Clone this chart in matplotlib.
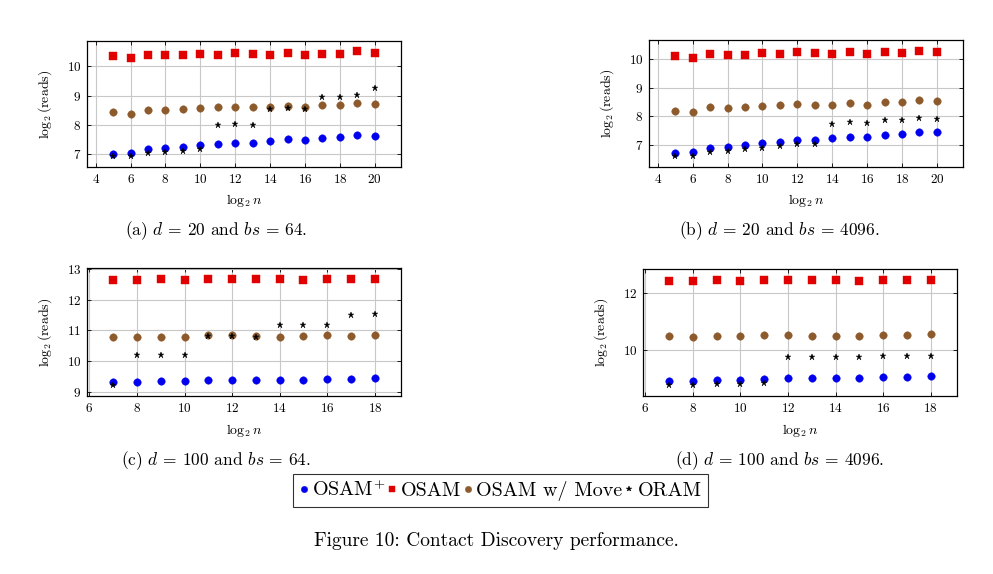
import numpy as np
import matplotlib
matplotlib.use("Agg")
import matplotlib.pyplot as plt

plt.rcParams['font.family'] = 'cmr10'
plt.rcParams['mathtext.fontset'] = 'cm'
plt.rcParams['axes.formatter.use_mathtext'] = True

# ====== DATA ======
n_a = [5, 6, 7, 8, 9, 10, 11, 12, 13, 14, 15, 16, 17, 18, 19, 20]
n_c = [7, 8, 9, 10, 11, 12, 13, 14, 15, 16, 17, 18]

# (a) d=20, bs=64
osam_plus_a = [7.01, 7.04, 7.19, 7.21, 7.27, 7.31, 7.36, 7.40, 7.40, 7.45, 7.51, 7.49, 7.56, 7.60, 7.65, 7.64]
osam_a = [10.35, 10.30, 10.40, 10.38, 10.38, 10.43, 10.40, 10.46, 10.43, 10.39, 10.45, 10.39, 10.44, 10.43, 10.51, 10.46]
move_a = [8.43, 8.39, 8.52, 8.51, 8.55, 8.57, 8.60, 8.62, 8.61, 8.61, 8.66, 8.62, 8.67, 8.69, 8.74, 8.72]
oram_a = [6.93, 6.93, 7.04, 7.09, 7.13, 7.18, 8.02, 8.04, 8.02, 8.55, 8.58, 8.55, 8.97, 8.97, 9.03, 9.27]

# (b) d=20, bs=4096
osam_plus_b = [6.71, 6.74, 6.91, 6.94, 7.00, 7.07, 7.12, 7.19, 7.19, 7.23, 7.28, 7.28, 7.35, 7.40, 7.45, 7.44]
osam_b = [10.12, 10.05, 10.19, 10.15, 10.15, 10.21, 10.19, 10.24, 10.20, 10.17, 10.26, 10.17, 10.24, 10.21, 10.30, 10.26]
move_b = [8.20, 8.16, 8.31, 8.30, 8.33, 8.36, 8.38, 8.44, 8.40, 8.41, 8.47, 8.41, 8.49, 8.51, 8.56, 8.52]
oram_b = [6.60, 6.60, 6.74, 6.79, 6.86, 6.91, 6.98, 7.02, 7.02, 7.74, 7.81, 7.77, 7.87, 7.88, 7.94, 7.91]

# (c) d=100, bs=64
osam_plus_c = [9.33, 9.32, 9.35, 9.36, 9.38, 9.40, 9.40, 9.39, 9.39, 9.41, 9.41, 9.45]
osam_c = [12.65, 12.64, 12.68, 12.65, 12.67, 12.66, 12.66, 12.66, 12.64, 12.68, 12.67, 12.67]
move_c = [10.78, 10.78, 10.80, 10.80, 10.84, 10.84, 10.81, 10.80, 10.81, 10.84, 10.81, 10.84]
oram_c = [9.22, 10.19, 10.22, 10.21, 10.81, 10.81, 10.79, 11.17, 11.17, 11.19, 11.51, 11.52]

# (d) d=100, bs=4096
osam_plus_d = [8.91, 8.91, 8.95, 8.95, 8.97, 9.01, 9.01, 9.01, 9.01, 9.04, 9.04, 9.09]
osam_d = [12.42, 12.41, 12.47, 12.42, 12.46, 12.44, 12.44, 12.44, 12.42, 12.46, 12.44, 12.46]
move_d = [10.48, 10.47, 10.50, 10.50, 10.53, 10.54, 10.50, 10.49, 10.49, 10.53, 10.51, 10.55]
oram_d = [8.76, 8.78, 8.81, 8.81, 8.84, 9.77, 9.77, 9.74, 9.77, 9.79, 9.78, 9.80]

captions = [r'(a) $d$ = 20 and $bs$ = 64.', r'(b) $d$ = 20 and $bs$ = 4096.',
            r'(c) $d$ = 100 and $bs$ = 64.', r'(d) $d$ = 100 and $bs$ = 4096.']
labels = [r'OSAM$^{+}$', 'OSAM', 'OSAM w/ Move', 'ORAM']
# ==================

panels = [
    (n_a, [osam_plus_a, osam_a, move_a, oram_a], [7, 8, 9, 10], range(4, 21, 2)),
    (n_a, [osam_plus_b, osam_b, move_b, oram_b], [7, 8, 9, 10], range(4, 21, 2)),
    (n_c, [osam_plus_c, osam_c, move_c, oram_c], [9, 10, 11, 12, 13], range(6, 19, 2)),
    (n_c, [osam_plus_d, osam_d, move_d, oram_d], [10, 12], range(6, 19, 2)),
]
# axes rects (left, bottom, width, height)
rects = [
    [0.0876, 0.7091, 0.3162, 0.2195],
    [0.6536, 0.7091, 0.3162, 0.2213],
    [0.0876, 0.3101, 0.3162, 0.2230],
    [0.6475, 0.3101, 0.3162, 0.2213],
]
cap_pos = [(0.218, 0.598), (0.785, 0.598), (0.218, 0.197), (0.785, 0.197)]

styles = [
    dict(marker='o', color='#0000ee', ms=5.4),
    dict(marker='s', color='#e00000', ms=5.4),
    dict(marker='o', color='#8c5a2b', ms=5.4),
    dict(marker='*', color='black', ms=4.8),
]

fig = plt.figure(figsize=(9.93, 5.74), dpi=100)
handles = []
for i, (x, ys, yticks, xticks) in enumerate(panels):
    ax = fig.add_axes(rects[i])
    for y, st in zip(ys, styles):
        h, = ax.plot(x, y, linestyle='none', marker=st['marker'], color=st['color'],
                     markersize=st['ms'], markeredgewidth=0.3,
                     markeredgecolor=st['color'], zorder=3)
        if i == 0:
            handles.append(h)
    # pgfplots-like 10% enlargement of the limits
    allv = np.concatenate([np.array(v) for v in ys])
    ymin, ymax = allv.min(), allv.max()
    dy = 0.1 * (ymax - ymin)
    ax.set_ylim(ymin - dy, ymax + dy)
    dx = 0.1 * (max(x) - min(x))
    ax.set_xlim(min(x) - dx, max(x) + dx)
    ax.set_xticks(list(xticks))
    ax.set_yticks(yticks)
    ax.grid(True, color='#c8c8c8', linewidth=0.8)
    ax.set_axisbelow(True)
    ax.tick_params(direction='in', length=3, width=0.6, labelsize=9.5,
                   top=True, right=True, pad=4)
    for sp in ax.spines.values():
        sp.set_linewidth(0.9)
    ax.set_xlabel(r'$\log_2 n$', fontsize=10, labelpad=5)
    ax.set_ylabel(r'$\log_2(\mathrm{reads})$', fontsize=10, labelpad=9)
    fig.text(cap_pos[i][0], cap_pos[i][1], captions[i], ha='center', va='center', fontsize=12.5)

leg = fig.legend(handles, labels, loc='center', bbox_to_anchor=(0.504, 0.1455),
                 ncol=4, fontsize=14.5, frameon=True, fancybox=False,
                 handlelength=0.45, handletextpad=0.2, columnspacing=0.1,
                 borderpad=0.3, markerscale=0.85, borderaxespad=0)
leg.get_frame().set_edgecolor('black')
leg.get_frame().set_linewidth(0.8)

fig.text(0.500, 0.0575, 'Figure 10: Contact Discovery performance.', ha='center',
         va='center', fontsize=14)

fig.savefig('out.png', dpi=100)
